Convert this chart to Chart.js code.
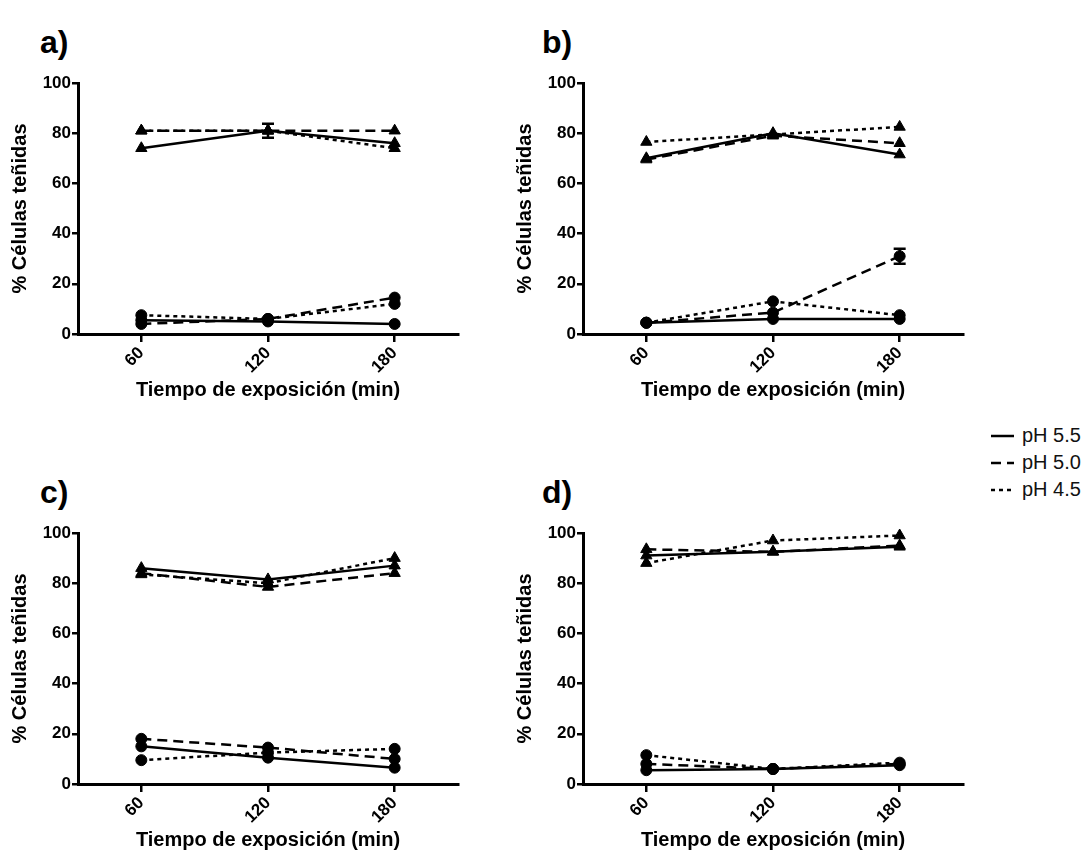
<!DOCTYPE html>
<html>
<head>
<meta charset="utf-8">
<script src="https://cdn.jsdelivr.net/npm/chart.js@4.4.1/dist/chart.umd.min.js"></script>
<style>
  body { margin: 0; background: #fff; overflow: hidden; font-family: "Liberation Sans", Arial, sans-serif; }
  #page { position: relative; width: 1089px; height: 859px; }
  .panel { position: absolute; width: 480px; }
  .tag { position: absolute; font-weight: bold; font-size: 32px; color: #000; }
  #legend { position: absolute; left: 991px; top: 422px; width: 98px; font-size: 20px; color: #111; white-space: nowrap; }
  #legend div { height: 27px; display: flex; align-items: center; }
  #legend svg { margin-right: 8px; flex: none; }
</style>
</head>
<body>
<div id="page">
  <div class="tag" style="left:40px; top:24px;">a)</div>
  <div class="tag" style="left:542px; top:24px;">b)</div>
  <div class="tag" style="left:40px; top:474px;">c)</div>
  <div class="tag" style="left:542px; top:474px;">d)</div>
  <div class="panel" style="left:0; top:0; height:420px;"><canvas id="chartA"></canvas></div>
  <div class="panel" style="left:505px; top:0; height:420px;"><canvas id="chartB"></canvas></div>
  <div class="panel" style="left:0; top:450px; height:409px;"><canvas id="chartC"></canvas></div>
  <div class="panel" style="left:505px; top:450px; height:409px;"><canvas id="chartD"></canvas></div>
  <div id="legend"></div>
</div>
<script>
const times = ["60", "120", "180"];
const phLabels = ["pH 5.5", "pH 5.0", "pH 4.5"];

// a)
const aTri55 = [74, 81, 76];
const aTri50 = [81, 81, 81];
const aTri45 = [81, 81, 74];
const aCirc55 = [5.5, 5, 4];
const aCirc50 = [4, 6, 14.5];
const aCirc45 = [7.5, 6, 12];
const aTri55Err = [0, 2.8, 0];

// b)
const bTri55 = [70, 80, 71.5];
const bTri50 = [69.5, 79, 76];
const bTri45 = [76.5, 79.5, 82.5];
const bCirc55 = [4.5, 6, 6];
const bCirc50 = [4.5, 8.5, 31];
const bCirc45 = [4.5, 13, 7.5];
const bCirc50Err = [0, 0, 3];

// c)
const cTri55 = [86, 81.5, 87];
const cTri50 = [84, 78.5, 84];
const cTri45 = [83.5, 80, 90];
const cCirc55 = [15, 10.5, 6.5];
const cCirc50 = [18, 14.5, 10];
const cCirc45 = [9.5, 12.5, 14];

// d)
const dTri55 = [91, 92.5, 94.5];
const dTri50 = [93.5, 92.5, 95];
const dTri45 = [88, 97, 99];
const dCirc55 = [5.5, 6, 7.5];
const dCirc50 = [8, 6, 8];
const dCirc45 = [11.5, 6, 8.5];

const dashes = [[], [10, 6], [4, 4]];

// error bars drawn through the y scale
const errorBars = {
  id: "errorBars",
  afterDatasetsDraw(chart) {
    const ctx = chart.ctx;
    const y = chart.scales.y;
    chart.data.datasets.forEach((ds, i) => {
      if (!ds.err) return;
      const meta = chart.getDatasetMeta(i);
      ds.err.forEach((e, j) => {
        if (!e) return;
        const px = meta.data[j].x;
        const top = y.getPixelForValue(ds.data[j] + e);
        const bot = y.getPixelForValue(ds.data[j] - e);
        ctx.save();
        ctx.strokeStyle = "#000";
        ctx.lineWidth = 2.5;
        ctx.beginPath();
        ctx.moveTo(px, top); ctx.lineTo(px, bot);
        ctx.moveTo(px - 6, top); ctx.lineTo(px + 6, top);
        ctx.moveTo(px - 6, bot); ctx.lineTo(px + 6, bot);
        ctx.stroke();
        ctx.restore();
      });
    });
  }
};

function makePanel(id, tri, circ, triErr, circErr, padBottom) {
  const datasets = [];
  tri.forEach((d, k) => {
    datasets.push({
      label: phLabels[k], data: d, err: triErr ? triErr[k] : null,
      borderColor: "#000", backgroundColor: "#000", borderWidth: 2.5,
      borderDash: dashes[k], pointStyle: "triangle", pointRadius: 6.5,
      pointBorderWidth: 1, tension: 0, clip: false
    });
  });
  circ.forEach((d, k) => {
    datasets.push({
      label: phLabels[k], data: d, err: circErr ? circErr[k] : null,
      borderColor: "#000", backgroundColor: "#000", borderWidth: 2.5,
      borderDash: dashes[k], pointStyle: "circle", pointRadius: 5.5,
      pointBorderWidth: 1, tension: 0, clip: false
    });
  });

  new Chart(document.getElementById(id), {
    type: "line",
    data: { labels: times, datasets: datasets },
    options: {
      responsive: true,
      maintainAspectRatio: false,
      animation: false,
      layout: { padding: { left: 0, right: 22, top: 83, bottom: padBottom } },
      plugins: { legend: { display: false }, tooltip: { enabled: false } },
      scales: {
        x: {
          type: "category",
          offset: true,
          afterFit: s => { s.height = 70; },
          border: { color: "#000", width: 3 },
          grid: { drawOnChartArea: false, color: "#000", lineWidth: 2.5, tickLength: 8 },
          ticks: { color: "#000", font: { family: "Liberation Sans", weight: "bold", size: 17 }, maxRotation: 45, minRotation: 45, padding: 1 },
          title: { display: true, text: "Tiempo de exposición (min)", color: "#000", font: { family: "Liberation Sans", weight: "bold", size: 20 }, padding: { top: 0, bottom: 2 } }
        },
        y: {
          min: 0, max: 100,
          afterFit: s => { s.width = 78; },
          border: { color: "#000", width: 3 },
          grid: { drawOnChartArea: false, color: "#000", lineWidth: 2.5, tickLength: 6 },
          ticks: { stepSize: 20, color: "#000", font: { family: "Liberation Sans", weight: "bold", size: 17 }, padding: 1 },
          title: { display: true, text: "% Células teñidas", color: "#000", font: { family: "Liberation Sans", weight: "bold", size: 20 }, padding: { top: 8, bottom: 0 } }
        }
      }
    },
    plugins: [errorBars]
  });
}

makePanel("chartA", [aTri55, aTri50, aTri45], [aCirc55, aCirc50, aCirc45], [aTri55Err, null, null], null, 16);
makePanel("chartB", [bTri55, bTri50, bTri45], [bCirc55, bCirc50, bCirc45], null, [null, bCirc50Err, null], 16);
makePanel("chartC", [cTri55, cTri50, cTri45], [cCirc55, cCirc50, cCirc45], null, null, 5);
makePanel("chartD", [dTri55, dTri50, dTri45], [dCirc55, dCirc50, dCirc45], null, null, 5);

const legend = document.getElementById("legend");
phLabels.forEach((lab, k) => {
  const row = document.createElement("div");
  row.innerHTML = `<svg width="23" height="6"><line x1="0" y1="3" x2="23" y2="3" stroke="#000" stroke-width="2.5" stroke-dasharray="${dashes[k].join(",") || "none"}"/></svg><span>${lab}</span>`;
  legend.appendChild(row);
});
</script>
</body>
</html>
